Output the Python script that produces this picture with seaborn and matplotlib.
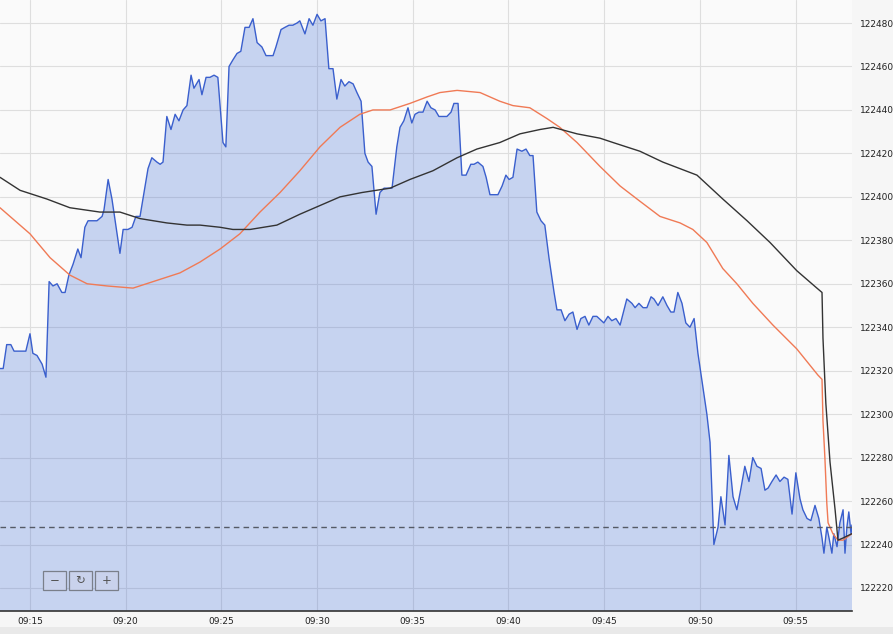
import matplotlib
matplotlib.use("Agg")
import matplotlib.pyplot as plt
from matplotlib.patches import Rectangle
import pandas as pd
import seaborn as sns

DAY = "2024-01-02 "

price_times = ["09:13:26","09:13:36","09:13:47","09:14:00","09:14:10","09:14:47","09:15:00","09:15:09","09:15:22","09:15:38",
    "09:15:50","09:16:00","09:16:12","09:16:25","09:16:40","09:16:50","09:17:02","09:17:15","09:17:30","09:17:40",
    "09:17:52","09:18:02","09:18:17","09:18:30","09:18:46","09:18:52","09:19:05","09:19:17","09:19:33","09:19:42",
    "09:19:52","09:20:07","09:20:20","09:20:32","09:20:45","09:20:54","09:21:10","09:21:22","09:21:38","09:21:48",
    "09:21:57","09:22:09","09:22:22","09:22:35","09:22:47","09:23:00","09:23:12","09:23:25","09:23:34","09:23:50",
    "09:23:59","09:24:12","09:24:24","09:24:37","09:24:49","09:25:05","09:25:14","09:25:24","09:25:36","09:25:49",
    "09:26:01","09:26:14","09:26:27","09:26:39","09:26:52","09:27:07","09:27:20","09:27:42","09:27:51","09:28:07",
    "09:28:19","09:28:32","09:28:44","09:28:57","09:29:06","09:29:22","09:29:35","09:29:47","09:30:00","09:30:12",
    "09:30:25","09:30:37","09:30:50","09:31:02","09:31:15","09:31:27","09:31:40","09:31:53","09:32:05","09:32:18",
    "09:32:30","09:32:40","09:32:52","09:33:05","09:33:17","09:33:30","09:33:55","09:34:10","09:34:20","09:34:32",
    "09:34:45","09:34:57","09:35:07","09:35:19","09:35:32","09:35:45","09:35:57","09:36:10","09:36:22","09:36:47",
    "09:37:00","09:37:09","09:37:22","09:37:34","09:37:47","09:38:02","09:38:12","09:38:24","09:38:40","09:38:50",
    "09:39:02","09:39:27","09:39:40","09:39:52","09:40:02","09:40:14","09:40:27","09:40:42","09:40:55","09:41:07",
    "09:41:17","09:41:29","09:41:42","09:41:54","09:42:07","09:42:23","09:42:32","09:42:45","09:42:57","09:43:10",
    "09:43:22","09:43:35","09:43:47","09:44:00","09:44:12","09:44:25","09:44:37","09:44:59","09:45:12","09:45:24",
    "09:45:37","09:45:50","09:46:11","09:46:27","09:46:37","09:46:49","09:47:02","09:47:14","09:47:27","09:47:36",
    "09:47:49","09:48:04","09:48:17","09:48:29","09:48:39","09:48:51","09:49:04","09:49:16","09:49:29","09:49:42",
    "09:49:54","09:50:10","09:50:22","09:50:32","09:50:44","09:50:57","09:51:06","09:51:19","09:51:31","09:51:44",
    "09:51:56","09:52:09","09:52:21","09:52:34","09:52:46","09:52:59","09:53:12","09:53:24","09:53:34","09:53:46",
    "09:53:59","09:54:11","09:54:24","09:54:36","09:54:49","09:55:01","09:55:14","09:55:23","09:55:36","09:55:48",
    "09:56:01","09:56:13","09:56:23","09:56:29","09:56:38","09:56:45","09:56:54","09:57:00","09:57:10","09:57:19",
    "09:57:29","09:57:35","09:57:41","09:57:47","09:57:54","09:57:57"]
price_values = [122321,122321,122332,122332,122329,122329,122337,122328,122327,122323,
    122317,122361,122359,122360,122356,122356,122364,122369,122376,122372,
    122386,122389,122389,122389,122391,122394,122408,122399,122383,122374,
    122385,122385,122386,122391,122391,122399,122413,122418,122416,122415,
    122416,122437,122431,122438,122435,122440,122442,122456,122450,122454,
    122447,122455,122455,122456,122455,122425,122423,122460,122463,122466,
    122467,122478,122478,122482,122471,122469,122465,122465,122469,122477,
    122478,122479,122479,122480,122481,122475,122482,122479,122484,122481,
    122482,122459,122459,122445,122454,122451,122453,122452,122448,122444,
    122420,122416,122414,122392,122402,122404,122404,122423,122432,122435,
    122441,122434,122438,122439,122439,122444,122441,122440,122437,122437,
    122439,122443,122443,122410,122410,122415,122415,122416,122414,122409,
    122401,122401,122405,122410,122408,122409,122422,122421,122422,122419,
    122419,122393,122389,122387,122372,122356,122348,122348,122343,122346,
    122347,122339,122344,122345,122341,122345,122345,122342,122345,122343,
    122344,122341,122353,122351,122349,122351,122349,122349,122354,122353,
    122350,122354,122350,122347,122347,122356,122351,122342,122340,122344,
    122328,122312,122300,122287,122240,122248,122262,122249,122281,122262,
    122256,122266,122276,122269,122280,122276,122275,122265,122266,122269,
    122272,122269,122271,122270,122254,122273,122261,122256,122252,122251,
    122258,122252,122243,122236,122248,122243,122236,122245,122239,122250,
    122256,122236,122248,122255,122245,122249]

fast_ma_times = ["09:13:26","09:15:00","09:16:03","09:17:05","09:17:59","09:19:01","09:20:23","09:21:26","09:22:50","09:23:53",
    "09:24:56","09:25:58","09:27:01","09:28:04","09:29:06","09:30:09","09:31:12","09:32:14","09:32:55","09:33:49",
    "09:34:51","09:35:45","09:36:25","09:37:19","09:38:31","09:39:33","09:40:14","09:41:07","09:42:01","09:42:41",
    "09:43:35","09:44:47","09:45:50","09:46:52","09:47:55","09:48:58","09:49:38","09:50:22","09:51:12","09:51:56",
    "09:52:46","09:53:49","09:55:04","09:56:10","09:56:23","09:56:26","09:56:32","09:56:38","09:56:42","09:56:57",
    "09:57:13","09:57:29","09:57:57"]
fast_ma_values = [122395,122383,122372,122364,122360,122359,122358,122361,122365,122370,
    122376,122383,122393,122402,122412,122423,122432,122438,122440,122440,
    122443,122446,122448,122449,122448,122444,122442,122441,122436,122432,
    122425,122414,122405,122398,122391,122388,122385,122379,122367,122360,
    122351,122341,122330,122318,122316,122297,122280,122259,122250,122245,
    122242,122242,122245]

slow_ma_times = ["09:13:26","09:14:29","09:15:53","09:17:05","09:18:39","09:19:42","09:20:45","09:22:09","09:23:12","09:23:53",
    "09:24:56","09:25:36","09:26:30","09:27:54","09:29:06","09:30:09","09:31:12","09:32:21","09:33:49","09:34:51",
    "09:36:03","09:37:19","09:38:21","09:39:33","09:40:36","09:41:39","09:42:20","09:43:35","09:44:47","09:45:28",
    "09:46:52","09:48:04","09:49:51","09:51:12","09:52:28","09:53:40","09:55:04","09:56:07","09:56:23","09:56:26",
    "09:56:35","09:56:48","09:57:04","09:57:13","09:57:29","09:57:57"]
slow_ma_values = [122409,122403,122399,122395,122393,122393,122390,122388,122387,122387,
    122386,122385,122385,122387,122392,122396,122400,122402,122404,122408,
    122412,122418,122422,122425,122429,122431,122432,122429,122427,122425,
    122421,122416,122410,122399,122389,122379,122366,122358,122356,122335,
    122305,122278,122256,122242,122243,122245]

ref_price = 122248
y_ticks = [122220, 122240, 122260, 122280, 122300, 122320, 122340, 122360,
           122380, 122400, 122420, 122440, 122460, 122480]
x_tick_labels = ["09:15", "09:20", "09:25", "09:30", "09:35", "09:40", "09:45", "09:50", "09:55"]
button_labels = ["\u2212", "\u21bb", "+"]
x_start, x_end = "09:13:26", "09:57:57"
y_min, y_max = 122209.4, 122490.6


def to_dt(lst):
    return pd.to_datetime([DAY + t for t in lst])


price_df = pd.DataFrame({"time": to_dt(price_times), "price": price_values})
fast_df = pd.DataFrame({"time": to_dt(fast_ma_times), "ma": fast_ma_values})
slow_df = pd.DataFrame({"time": to_dt(slow_ma_times), "ma": slow_ma_values})

sns.set_theme(style="white")
plt.rcParams["font.family"] = ["DejaVu Sans"]

W, H = 893, 634
fig = plt.figure(figsize=(W / 100, H / 100), dpi=100, facecolor="#f6f6f6")
ax = fig.add_axes([0, (H - 611) / H, 852 / W, 611 / H])
ax.set_facecolor("#fafafa")

# bottom gray band
fig.patches.append(Rectangle((0, 0), 1, (H - 627) / H, transform=fig.transFigure,
                             facecolor="#e9e9e9", edgecolor="none", zorder=0))

ax.set_axisbelow(True)
ax.grid(True, color="#dedede", linewidth=0.8)

ax.fill_between(price_df["time"], price_df["price"], y_min - 50,
                color="#3d6ad6", alpha=0.27, linewidth=0, zorder=1)
sns.lineplot(data=price_df, x="time", y="price", ax=ax, color="#3a5fcd",
             linewidth=1.0, zorder=3)
sns.lineplot(data=fast_df, x="time", y="ma", ax=ax, color="#f07a55",
             linewidth=1.0, zorder=4)
sns.lineplot(data=slow_df, x="time", y="ma", ax=ax, color="#333333",
             linewidth=1.0, zorder=4)
ax.axhline(ref_price, color="#555a66", linewidth=1.0, linestyle=(0, (4, 3)), zorder=5)

ax.set_xlim(pd.Timestamp(DAY + x_start), pd.Timestamp(DAY + x_end))
ax.set_ylim(y_min, y_max)

xt = pd.to_datetime([DAY + s for s in x_tick_labels])
ax.set_xticks(xt)
ax.set_xticklabels(x_tick_labels)
ax.set_yticks(y_ticks)
ax.set_yticklabels([str(v) for v in y_ticks])
ax.yaxis.tick_right()
ax.tick_params(axis="both", length=0, labelsize=6.5, colors="#222222")
ax.tick_params(axis="x", pad=4)
ax.tick_params(axis="y", pad=6)
ax.set_xlabel("")
ax.set_ylabel("")

for s in ["top", "left", "right"]:
    ax.spines[s].set_visible(False)
ax.spines["bottom"].set_color("#333333")
ax.spines["bottom"].set_linewidth(1.2)

# zoom buttons (range selector controls)
bw, bh, gap, bx0, by0 = 23, 19, 3, 43, 571
for i, sym in enumerate(button_labels):
    x0 = bx0 + i * (bw + gap)
    fig.patches.append(Rectangle((x0 / W, 1 - (by0 + bh) / H), bw / W, bh / H,
                                 transform=fig.transFigure, facecolor="#c9d2ec",
                                 edgecolor="#7a7f8a", linewidth=0.9, zorder=10))
    fig.text((x0 + bw / 2) / W, 1 - (by0 + bh / 2) / H, sym, ha="center", va="center",
             fontsize=8.5, color="#555555", zorder=11)

fig.savefig("out.png", dpi=100, facecolor=fig.get_facecolor())
